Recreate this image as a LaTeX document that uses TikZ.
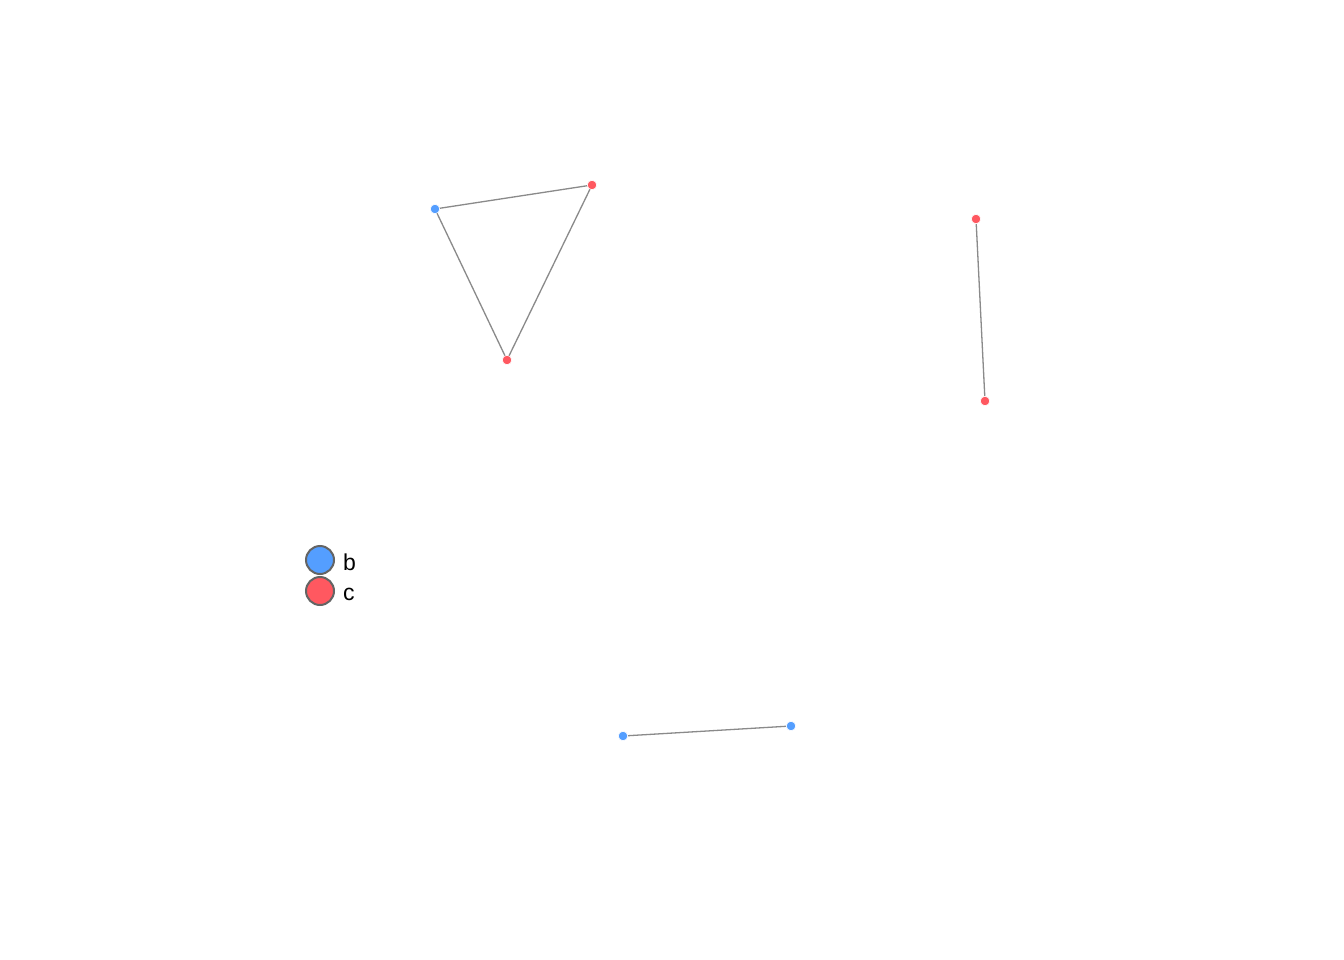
\documentclass[tikz,border=0pt]{standalone}
\usepackage{fontspec}
\setmainfont{Liberation Sans}
\usetikzlibrary{backgrounds}
\definecolor{nblue}{RGB}{84,158,255}
\definecolor{nred}{RGB}{255,88,96}
\definecolor{edgegray}{RGB}{138,138,138}
\definecolor{legendgray}{RGB}{100,100,100}
\begin{document}
\begin{tikzpicture}[x=1pt,y=-1pt,
  vtx/.style={circle,inner sep=0pt,minimum size=9.5pt,draw=white,line width=0.6pt},
  bv/.style={vtx,fill=nblue},
  rv/.style={vtx,fill=nred},
  link/.style={draw=edgegray,line width=1.3pt,shorten <=-4pt,shorten >=-4pt},
  legdot/.style={circle,inner sep=0pt,minimum size=28pt,draw=legendgray,line width=2pt},
  legtxt/.style={anchor=west,font=\fontsize{23}{25}\selectfont,inner sep=0pt}]
\useasboundingbox (0,0) rectangle (1344,960);
% vertices
\node[bv] (n1) at (435,209) {};
\node[rv] (n2) at (592,185) {};
\node[rv] (n3) at (507,360) {};
\node[rv] (n4) at (976,219) {};
\node[rv] (n5) at (985,401) {};
\node[bv] (n6) at (623,736) {};
\node[bv] (n7) at (791,726) {};
% edges beneath the vertices
\begin{scope}[on background layer]
\fill[white] (0,0) rectangle (1344,960);
\draw[link] (n1) -- (n2);
\draw[link] (n1) -- (n3);
\draw[link] (n2) -- (n3);
\draw[link] (n4) -- (n5);
\draw[link] (n6) -- (n7);
\end{scope}
% legend
\node[legdot,fill=nblue] (lb) at (320,560) {};
\node[legdot,fill=nred] (lc) at (320,591) {};
\node[legtxt] (tb) at (343,562) {b};
\node[legtxt] (tc) at (343,594) {c};
\end{tikzpicture}
\end{document}
